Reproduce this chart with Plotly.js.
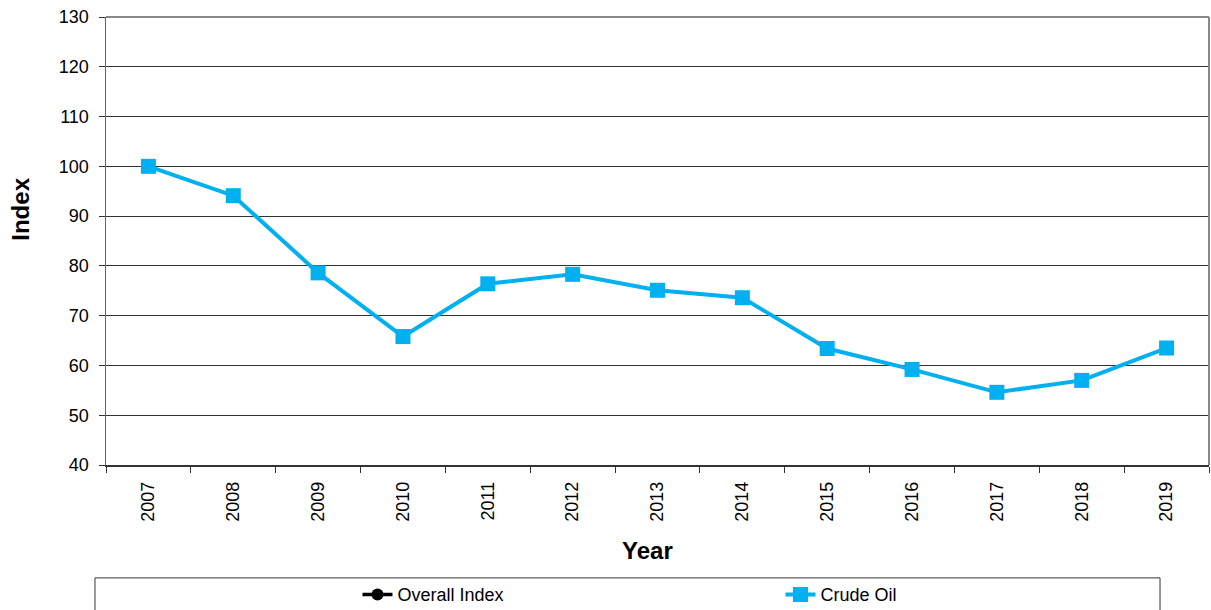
<!DOCTYPE html>
<html>
<head>
<meta charset="utf-8">
<script src="https://cdn.plot.ly/plotly-3.0.1.min.js"></script>
<style>html,body{margin:0;padding:0;background:#fff;}#chart{width:1211px;height:610px;}</style>
</head>
<body>
<div id="chart"></div>
<script>
var years = ["2007","2008","2009","2010","2011","2012","2013","2014","2015","2016","2017","2018","2019"];
var crudeOil = [100.0, 94.1, 78.6, 65.8, 76.4, 78.3, 75.1, 73.6, 63.4, 59.2, 54.6, 57.0, 63.5];
var overallIndex = [null, null, null, null, null, null, null, null, null, null, null, null, null];
var seriesNames = ["Overall Index", "Crude Oil"];
var yTicks = [40, 50, 60, 70, 80, 90, 100, 110, 120, 130];

var fontFam = "Liberation Sans, Arial, sans-serif";

var traces = [
  {
    x: years, y: overallIndex, name: seriesNames[0], type: "scatter", mode: "lines+markers",
    line: {color: "#000000", width: 3.5},
    marker: {symbol: "circle", size: 12, color: "#000000"},
    showlegend: true
  },
  {
    x: years, y: crudeOil, name: seriesNames[1], type: "scatter", mode: "lines+markers",
    line: {color: "#00B0F0", width: 4},
    marker: {symbol: "square", size: 15, color: "#00B0F0"},
    cliponaxis: false
  }
];

var layout = {
  width: 1211, height: 610,
  margin: {l: 106, r: 2, t: 17, b: 145},
  paper_bgcolor: "#ffffff", plot_bgcolor: "#ffffff",
  font: {family: fontFam, color: "#000000", size: 18},
  showlegend: true,
  legend: {
    orientation: "h", xref: "paper", yref: "container",
    x: 0.228, xanchor: "left", y: 0.025, yanchor: "middle",
    entrywidth: 378, entrywidthmode: "pixels",
    font: {family: fontFam, size: 18, color: "#000000"},
    bgcolor: "rgba(0,0,0,0)", traceorder: "normal"
  },
  xaxis: {
    type: "category", tickson: "boundaries", ticks: "outside", ticklen: 6, tickcolor: "#333333",
    tickangle: -90, showline: true, linecolor: "#333333", linewidth: 1.5,
    showgrid: false, zeroline: false, mirror: false, ticklabelstandoff: 8,
    tickfont: {family: fontFam, size: 18, color: "#000000"},
    range: [-0.5, 12.5], automargin: false
  },
  yaxis: {
    range: [40, 130], tickvals: yTicks, ticks: "outside", ticklen: 6, tickcolor: "#333333",
    showline: true, linecolor: "#666666", linewidth: 1.5,
    showgrid: true, gridcolor: "#333333", gridwidth: 1, zeroline: false, ticklabelstandoff: 6,
    tickfont: {family: fontFam, size: 18, color: "#000000"}, automargin: false
  },
  shapes: [
    {type: "line", xref: "paper", yref: "paper", x0: 0, x1: 1, y0: 1, y1: 1, line: {color: "#888888", width: 2}},
    {type: "line", xref: "paper", yref: "paper", x0: 1, x1: 1, y0: 0, y1: 1, line: {color: "#888888", width: 2}},
    {type: "rect", xref: "paper", yref: "paper", x0: -0.01, x1: 0.9556, y0: -0.252, y1: -0.45, line: {color: "#333333", width: 1}, fillcolor: "rgba(0,0,0,0)", layer: "below"}
  ],
  annotations: [
    {text: "<b>Index</b>", xref: "paper", yref: "paper", x: -0.077, y: 0.57, xanchor: "center", yanchor: "middle",
     textangle: -90, showarrow: false, font: {family: fontFam, size: 24, color: "#000000"}},
    {text: "<b>Year</b>", xref: "paper", yref: "paper", x: 0.491, y: -0.19, xanchor: "center", yanchor: "middle",
     showarrow: false, font: {family: fontFam, size: 24, color: "#000000"}}
  ]
};

Plotly.newPlot("chart", traces, layout, {staticPlot: true, displayModeBar: false});
</script>
</body>
</html>
